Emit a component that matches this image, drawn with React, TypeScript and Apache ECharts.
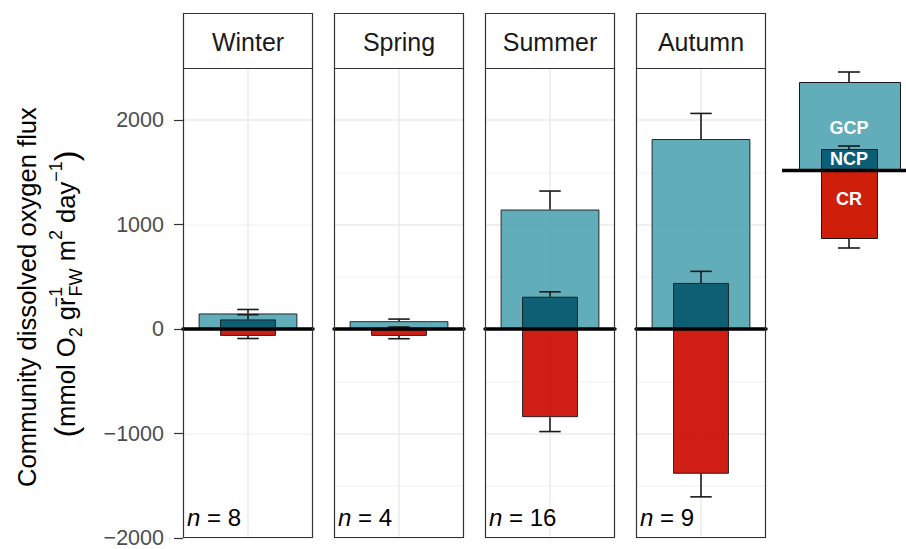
import React, { useEffect, useRef } from 'react';
import * as echarts from 'echarts';

// ---- data ----
const seasons = ['Winter', 'Spring', 'Summer', 'Autumn'];
const gcp = [150, 76, 1145, 1820];
const gcpSe = [38, 20, 177, 245];
const ncp = [93, 12, 310, 442];
const ncpSe = [45, 8, 47, 111];
const cr = [-65, -65, -843, -1385];
const crSe = [25, 27, 138, 221];
const nObs = [8, 4, 16, 9];
const yTicks = [-2000, -1000, 0, 1000, 2000];
const yMin = -2000;
const yMax = 2500;

const FONT = '"Liberation Sans", Arial, Helvetica, sans-serif';
const COL_GCP = '#55a6b4';
const COL_NCP = '#06586e';
const COL_CR = '#cc0b00';
const LEG_GCP = '#62adba';
const LEG_NCP = '#0c5e74';
const LEG_CR = '#cf1f0a';

const panelLeft = [183, 334, 485, 636];
const panelW = 130;
const panelTop = 68;
const panelH = 470;
const stripTop = 13;

const fmt = (v: any) => {
  const n = Number(v);
  if (yTicks.indexOf(n) < 0) return '';
  return n < 0 ? '\u2212' + Math.abs(n) : String(n);
};

const errRender = (params: any, api: any) => {
  const s = api.coord([api.value(0), api.value(1)]);
  const e = api.coord([api.value(0), api.value(2)]);
  const bw = api.size([1, 0])[0];
  const cap = (bw * 0.165) / 2;
  const st = { stroke: '#1a1a1a', lineWidth: 1.6 };
  return {
    type: 'group',
    children: [
      { type: 'line', shape: { x1: s[0], y1: s[1], x2: e[0], y2: e[1] }, style: st },
      { type: 'line', shape: { x1: e[0] - cap, y1: e[1], x2: e[0] + cap, y2: e[1] }, style: st },
    ],
  };
};

export default function App() {
  const ref = useRef<HTMLDivElement>(null);
  useEffect(() => {
    if (!ref.current) return;
    const chart = echarts.init(ref.current, undefined, { renderer: 'svg' });

    const grid: any[] = [];
    const xAxis: any[] = [];
    const yAxis: any[] = [];
    const series: any[] = [];
    const graphic: any[] = [];

    seasons.forEach((s, i) => {
      grid.push({ left: panelLeft[i], top: panelTop, width: panelW, height: panelH, show: false });
      // main category axis (GCP bars + zero line)
      xAxis.push({
        type: 'category', gridIndex: i, data: [s], z: 20,
        axisLine: { show: true, onZero: true, lineStyle: { color: '#000', width: 3.5 } },
        axisTick: { show: false }, axisLabel: { show: false }, splitLine: { show: false },
      });
      // hidden axis for NCP
      xAxis.push({ type: 'category', gridIndex: i, data: [s], show: false });
      // hidden axis for CR
      xAxis.push({ type: 'category', gridIndex: i, data: [s], show: false });
      // value axis only for the vertical centre grid line
      xAxis.push({
        type: 'value', gridIndex: i, min: 0, max: 2, interval: 1, position: 'top',
        axisLine: { show: false }, axisTick: { show: false }, axisLabel: { show: false },
        splitLine: { show: true, showMinLine: false, showMaxLine: false, lineStyle: { color: '#EBEBEB', width: 1.5 } },
      });
      yAxis.push({
        type: 'value', gridIndex: i, min: yMin, max: yMax, interval: 500,
        axisLine: { show: false },
        axisTick: i === 0
          ? { show: true, customValues: yTicks, length: 9, lineStyle: { color: '#333333', width: 1.2 } }
          : { show: false },
        axisLabel: i === 0
          ? { show: true, formatter: fmt, color: '#4D4D4D', fontSize: 21.5, fontFamily: FONT, margin: 19, showMaxLabel: true, showMinLabel: true }
          : { show: false },
        splitLine: { show: true, lineStyle: { color: ['#EBEBEB', '#F4F4F4'], width: 1.5 } },
      });

      const bx = i * 4;
      series.push({
        type: 'bar', name: 'GCP', xAxisIndex: bx, yAxisIndex: i, data: [gcp[i]], barWidth: '76%', z: 2,
        itemStyle: { color: COL_GCP, opacity: 0.92, borderColor: '#1a1a1a', borderWidth: 1 },
      });
      series.push({
        type: 'custom', xAxisIndex: bx, yAxisIndex: i, z: 3, renderItem: errRender,
        encode: { x: 0, y: [1, 2] }, data: [[0, gcp[i], gcp[i] + gcpSe[i]]],
      });
      series.push({
        type: 'bar', name: 'NCP', xAxisIndex: bx + 1, yAxisIndex: i, data: [ncp[i]], barWidth: '43%', z: 4,
        itemStyle: { color: COL_NCP, opacity: 0.92, borderColor: '#1a1a1a', borderWidth: 1 },
      });
      series.push({
        type: 'bar', name: 'CR', xAxisIndex: bx + 2, yAxisIndex: i, data: [cr[i]], barWidth: '43%', z: 4,
        itemStyle: { color: COL_CR, opacity: 0.92, borderColor: '#1a1a1a', borderWidth: 1 },
      });
      series.push({
        type: 'custom', xAxisIndex: bx, yAxisIndex: i, z: 5, renderItem: errRender,
        encode: { x: 0, y: [1, 2] }, data: [[0, ncp[i], ncp[i] + ncpSe[i]]],
      });
      series.push({
        type: 'custom', xAxisIndex: bx, yAxisIndex: i, z: 5, renderItem: errRender,
        encode: { x: 0, y: [1, 2] }, data: [[0, cr[i], cr[i] - crSe[i]]],
      });

      // panel border
      graphic.push({
        type: 'rect', z: 100, shape: { x: panelLeft[i] + 0.5, y: panelTop + 0.5, width: panelW - 1, height: panelH - 1 },
        style: { fill: 'none', stroke: '#333333', lineWidth: 1.2 },
      });
      // strip
      graphic.push({
        type: 'rect', z: 100, shape: { x: panelLeft[i] + 0.5, y: stripTop + 0.5, width: panelW - 1, height: panelTop - stripTop },
        style: { fill: '#fff', stroke: '#333333', lineWidth: 1.2 },
      });
      graphic.push({
        type: 'text', z: 101, x: panelLeft[i] + panelW / 2, y: (stripTop + panelTop) / 2 + 1,
        style: { text: s, fontSize: 25, fontFamily: FONT, fill: '#1A1A1A', align: 'center', verticalAlign: 'middle' },
      });
      // n label
      graphic.push({
        type: 'text', z: 101, x: panelLeft[i] + 4, y: 517,
        style: {
          text: '{i|n} = ' + nObs[i], fontSize: 24, fontFamily: FONT, fill: '#000', align: 'left', verticalAlign: 'middle',
          rich: { i: { fontStyle: 'italic', fontSize: 24, fontFamily: FONT, fill: '#000' } },
        },
      });
    });

    // y-axis title
    graphic.push({
      type: 'text', x: 27, y: 297, rotation: Math.PI / 2,
      style: { text: 'Community dissolved oxygen flux', fontSize: 25.6, fontFamily: FONT, fill: '#000', align: 'center', verticalAlign: 'middle' },
    });
    const tStyle = { fontSize: 25.6, fontFamily: FONT, fill: '#000', lineHeight: 28 };
    const supStyle = { fontSize: 18, fontFamily: FONT, fill: '#000', verticalAlign: 'top', lineHeight: 18 };
    const subStyle = { fontSize: 18, fontFamily: FONT, fill: '#000', verticalAlign: 'bottom', lineHeight: 18 };
    graphic.push({
      type: 'text', x: 66, y: 294, rotation: Math.PI / 2,
      style: {
        text: '{p|(}{t|mmol O}{sb|2}{t| gr}{sp1|\u22121}{sb|FW}{t| m}{sp|2}{t| day}{sp|\u22121}{p|)}',
        align: 'center', verticalAlign: 'middle', fontFamily: FONT, fill: '#000',
        rich: {
          p: { fontSize: 32, fontFamily: FONT, fill: '#000', lineHeight: 38 },
          t: tStyle,
          sp: supStyle,
          sp1: { ...supStyle, width: 1 },
          sb: subStyle,
        },
      },
    });

    // legend key
    const lx = 849;
    const capHalf = 11;
    const errLine = (y1: number, y2: number) => [
      { type: 'line', shape: { x1: lx, y1, x2: lx, y2 }, style: { stroke: '#1a1a1a', lineWidth: 1.6 } },
      { type: 'line', shape: { x1: lx - capHalf, y1: y2, x2: lx + capHalf, y2 }, style: { stroke: '#1a1a1a', lineWidth: 1.6 } },
    ];
    graphic.push({
      type: 'group', z: 100,
      children: [
        ...errLine(82, 72),
        { type: 'rect', shape: { x: 799.5, y: 82.5, width: 101, height: 88 }, style: { fill: LEG_GCP, stroke: '#1a1a1a', lineWidth: 1 } },
        ...errLine(149, 146),
        { type: 'rect', shape: { x: 821.5, y: 149.5, width: 56, height: 21 }, style: { fill: LEG_NCP, stroke: '#1a1a1a', lineWidth: 1 } },
        { type: 'rect', shape: { x: 821.5, y: 170.5, width: 56, height: 68 }, style: { fill: LEG_CR, stroke: '#1a1a1a', lineWidth: 1 } },
        ...errLine(239, 248),
        { type: 'line', shape: { x1: 782, y1: 170.5, x2: 906, y2: 170.5 }, style: { stroke: '#000', lineWidth: 3.5 } },
        { type: 'text', x: lx, y: 128, style: { text: 'GCP', fontSize: 18, fontWeight: 'bold', fontFamily: FONT, fill: '#fff', align: 'center', verticalAlign: 'middle' } },
        { type: 'text', x: lx, y: 159, style: { text: 'NCP', fontSize: 18, fontWeight: 'bold', fontFamily: FONT, fill: '#fff', align: 'center', verticalAlign: 'middle' } },
        { type: 'text', x: lx, y: 199, style: { text: 'CR', fontSize: 18, fontWeight: 'bold', fontFamily: FONT, fill: '#fff', align: 'center', verticalAlign: 'middle' } },
      ],
    });

    chart.setOption({
      animation: false,
      backgroundColor: '#ffffff',
      grid, xAxis, yAxis, series, graphic,
    });
    return () => chart.dispose();
  }, []);

  return (
    <div
      ref={ref}
      style={{ position: 'fixed', left: 0, top: 0, width: 906, height: 549, background: '#fff' }}
    />
  );
}
